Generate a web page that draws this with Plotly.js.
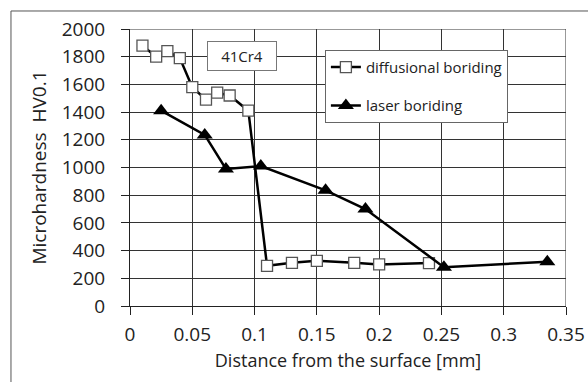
<!DOCTYPE html>
<html>
<head>
<meta charset="utf-8">
<script src="https://cdn.plot.ly/plotly-3.0.1.min.js"></script>
<style>html,body{margin:0;padding:0;background:#fff;}#chart{width:588px;height:382px;}</style>
</head>
<body>
<div id="chart"></div>
<script>
// Diffusional boriding
const diffX = [0.01, 0.021, 0.03, 0.04, 0.05, 0.061, 0.07, 0.08, 0.095, 0.11, 0.13, 0.15, 0.18, 0.2, 0.24];
const diffY = [1880, 1800, 1840, 1790, 1580, 1490, 1540, 1520, 1410, 290, 312, 326, 312, 300, 310];
// Laser boriding
const laserX = [0.025, 0.06, 0.077, 0.105, 0.157, 0.189, 0.252, 0.335];
const laserY = [1410, 1235, 990, 1010, 835, 700, 280, 320];

const xTicks = [0, 0.05, 0.1, 0.15, 0.2, 0.25, 0.3, 0.35];
const xTickText = ['0', '0.05', '0.1', '0.15', '0.2', '0.25', '0.3', '0.35'];
const yTicks = [0, 200, 400, 600, 800, 1000, 1200, 1400, 1600, 1800, 2000];

const FONT = '"Open Sans", Lato, sans-serif';

const traces = [
  {
    x: diffX, y: diffY, name: 'diffusional boriding', type: 'scatter', mode: 'lines+markers',
    legendgroup: 'a',
    line: {color: '#000', width: 2.5},
    marker: {symbol: 'square', size: 11, color: '#fff', line: {color: '#555', width: 1.3}}
  },
  {
    x: laserX, y: laserY, name: 'laser boriding', type: 'scatter', mode: 'lines+markers',
    legendgroup: 'b',
    line: {color: '#000', width: 2.5},
    marker: {symbol: 'triangle-up', size: 14, color: '#000'}
  }
];

const layout = {
  width: 588, height: 382,
  margin: {l: 130, r: 22, t: 29, b: 76},
  paper_bgcolor: '#fff', plot_bgcolor: '#fff',
  font: {family: FONT, color: '#222', size: 19},
  showlegend: true,
  legend: {
    x: 0.447, y: 0.925, xanchor: 'left', yanchor: 'top',
    bgcolor: '#fff', bordercolor: '#666', borderwidth: 1,
    font: {family: FONT, size: 15, color: '#222'},
    traceorder: 'grouped', tracegroupgap: 16, itemwidth: 30,
    entrywidth: 200, entrywidthmode: 'pixels'
  },
  xaxis: {
    range: [0, 0.35], tickvals: xTicks, ticktext: xTickText,
    showgrid: true, gridcolor: '#333', gridwidth: 1,
    zeroline: false, showline: true, linecolor: '#222', linewidth: 1, mirror: false,
    ticks: 'outside', ticklen: 8, tickcolor: '#222', ticklabelstandoff: 3,
    tickfont: {family: FONT, size: 19, color: '#222'},
    title: {text: 'Distance from the surface [mm]', font: {family: FONT, size: 18, color: '#222'}, standoff: 8}
  },
  yaxis: {
    range: [0, 2000], tickvals: yTicks,
    showgrid: true, gridcolor: '#333', gridwidth: 1,
    zeroline: false, showline: true, linecolor: '#222', linewidth: 1,
    ticks: 'outside', ticklen: 8, tickcolor: '#222', ticklabelstandoff: 12,
    tickfont: {family: FONT, size: 19, color: '#222'},
    title: {text: 'Microhardness  HV0.1', font: {family: FONT, size: 19, color: '#222'}, standoff: 10}
  },
  shapes: [
    {type: 'line', xref: 'x', yref: 'paper', x0: 0.35, x1: 0.35, y0: 0, y1: 1, line: {color: '#333', width: 1}},
    {type: 'line', xref: 'paper', yref: 'y', x0: 0, x1: 1, y0: 2000, y1: 2000, line: {color: '#333', width: 1}},
    {type: 'line', xref: 'paper', yref: 'paper', x0: -0.273, x1: -0.273, y0: -0.3, y1: 1.065, line: {color: '#555', width: 1}},
    {type: 'line', xref: 'paper', yref: 'paper', x0: -0.273, x1: 1.1, y0: 1.065, y1: 1.065, line: {color: '#555', width: 1}}
  ],
  annotations: [
    {text: '41Cr4', xref: 'paper', yref: 'paper', x: 0.258, y: 0.904, xanchor: 'center', yanchor: 'middle',
     showarrow: false, font: {family: FONT, size: 15, color: '#222'},
     bgcolor: '#fff', bordercolor: '#777', borderwidth: 1, borderpad: 5, width: 58, height: 18}
  ]
};

Plotly.newPlot('chart', traces, layout, {displayModeBar: false, staticPlot: true});
</script>
</body>
</html>
